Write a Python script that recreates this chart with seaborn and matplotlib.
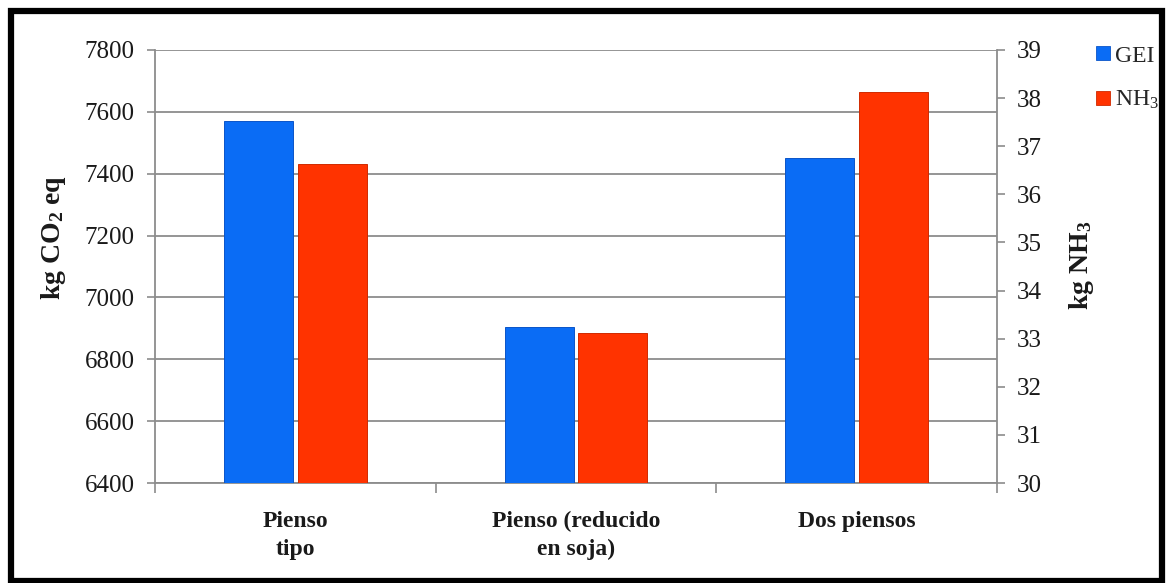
import numpy as np
import pandas as pd
import matplotlib
matplotlib.use("Agg")
import matplotlib.pyplot as plt
import seaborn as sns
from matplotlib.lines import Line2D
from matplotlib.patches import Rectangle

# ---- data ----
categories = ["Pienso\ntipo", "Pienso (reducido\nen soja)", "Dos piensos"]
gei_values = [7570, 6905, 7450]        # kg CO2 eq (left axis)
nh3_values = [36.63, 33.12, 38.13]      # kg NH3 (right axis)
left_ticks = [6400, 6600, 6800, 7000, 7200, 7400, 7600, 7800]
right_ticks = [30, 31, 32, 33, 34, 35, 36, 37, 38, 39]
series_names = ["GEI", "NH3"]
series_colors = {"GEI": "#0A6CF5", "NH3": "#FF3300"}

sns.set_theme(style="white")
plt.rcParams["font.family"] = ["Liberation Serif", "DejaVu Serif"]
plt.rcParams["mathtext.fontset"] = "custom"
plt.rcParams["mathtext.rm"] = "Liberation Serif"
plt.rcParams["mathtext.bf"] = "Liberation Serif:bold"
plt.rcParams["mathtext.it"] = "Liberation Serif:italic"

df_gei = pd.DataFrame({"cat": categories, "series": "GEI", "value": gei_values})
df_nh3 = pd.DataFrame({"cat": categories, "series": "NH3", "value": nh3_values})

W, H = 1168, 583
fig = plt.figure(figsize=(W / 100, H / 100), dpi=100)
ax = fig.add_axes([155 / W, 1 - 483 / H, (997 - 155) / W, (483 - 50) / H])
ax2 = ax.twinx()

common = dict(x="cat", y="value", hue="series", hue_order=series_names,
              order=categories, palette=series_colors, width=0.525, gap=0.065,
              dodge=True, legend=False, saturation=1, errorbar=None)
sns.barplot(data=df_gei, ax=ax, **common)
sns.barplot(data=df_nh3, ax=ax2, **common)

edge = {"GEI": "#0B55C8", "NH3": "#D02A00"}
for a, s in [(ax, "GEI"), (ax2, "NH3")]:
    for p in a.patches:
        p.set_edgecolor(edge[s])
        p.set_linewidth(0.7)
        p.set_zorder(3)

grid_c = "#8C8C8C"
ax.set_ylim(left_ticks[0], left_ticks[-1])
ax.set_yticks(left_ticks)
ax2.set_ylim(right_ticks[0], right_ticks[-1])
ax2.set_yticks(right_ticks)
ax.set_xlim(-0.5, len(categories) - 0.5)

ax.set_axisbelow(True)
ax.yaxis.grid(True, color=grid_c, linewidth=1.3)
ax.xaxis.grid(False)
ax2.grid(False)

for a in (ax, ax2):
    a.spines["top"].set_visible(False)
    for side in ["left", "right", "bottom"]:
        a.spines[side].set_color(grid_c)
        a.spines[side].set_linewidth(1.3)
ax.spines["right"].set_visible(False)
ax2.spines["left"].set_visible(False)
ax2.spines["bottom"].set_visible(False)

tick_c = "#1a1a1a"
ax.tick_params(axis="y", which="major", left=True, length=6, width=1.2,
               color=grid_c, pad=8.5, labelsize=18, labelcolor=tick_c)
ax2.tick_params(axis="y", which="major", right=True, length=6, width=1.2,
                color=grid_c, pad=8, labelsize=18, labelcolor=tick_c)

ax.set_xticks(range(len(categories)))
ax.set_xticklabels(categories, fontsize=17, fontweight="bold", color=tick_c,
                   linespacing=1.45)
ax.tick_params(axis="x", which="major", bottom=False, length=0, pad=20)
ax.set_xticks(np.arange(-0.5, len(categories), 1.0), minor=True)
ax.tick_params(axis="x", which="minor", bottom=True, length=7, width=1.2,
               color=grid_c)

ax.set_xlabel("")
ax.set_ylabel(r"kg CO$_\mathbf{2}$ eq", fontsize=20, fontweight="bold",
              color=tick_c)
ax2.set_ylabel(r"kg NH$_\mathbf{3}$", fontsize=20, fontweight="bold",
               color=tick_c, rotation=90)
ax.yaxis.set_label_coords((68 - 155) / 842, (483 - 238) / 433)
ax2.yaxis.set_label_coords((1067 - 155) / 842, (483 - 265) / 433)

fig.patches.append(Rectangle((10.5 / W, 1 - 581 / H), (1161.5 - 10.5) / W,
                             (581 - 10.5) / H, transform=fig.transFigure,
                             fill=False, edgecolor="black", linewidth=4.5,
                             zorder=1))

handles = [Line2D([0], [0], marker="s", linestyle="none", markersize=9.5,
                  markerfacecolor=series_colors[s], markeredgecolor=edge[s],
                  markeredgewidth=0.6) for s in series_names]
leg = fig.legend(handles, ["GEI", r"NH$_3$"], loc="upper left",
                 bbox_to_anchor=(1095 / W, 1 - 45 / H), frameon=False,
                 fontsize=17, handlelength=0.7, handletextpad=0.15,
                 labelspacing=0.95, borderaxespad=0, borderpad=0)
leg.set_zorder(20)

fig.savefig("out.png", dpi=100)
